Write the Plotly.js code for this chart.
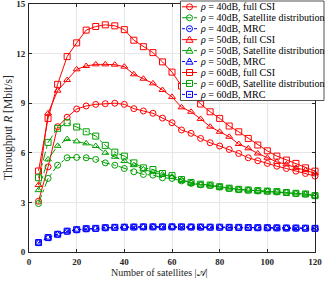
<!DOCTYPE html>
<html>
<head>
<meta charset="utf-8">
<script src="https://cdn.plot.ly/plotly-3.0.1.min.js"></script>
<style>
html,body{margin:0;padding:0;background:#fff;}
#chart{width:325px;height:283px;}
</style>
</head>
<body>
<div id="chart"></div>
<script>
// ---- data ----
const satellites = [4,8,12,16,20,24,28,32,36,40,44,48,52,56,60,64,68,72,76,80,84,88,92,96,100,104,108,112,116,120];

const full40 = [3.07,5.15,7.58,8.15,8.65,8.83,8.93,8.97,9.00,8.93,8.67,8.53,8.39,8.10,7.82,7.38,7.18,6.87,6.61,6.41,6.20,5.96,5.70,5.52,5.36,5.19,5.05,4.89,4.75,4.59];
const full50 = [4.05,8.39,9.76,10.40,11.05,11.25,11.35,11.35,11.33,11.21,10.75,10.48,10.20,9.80,9.38,8.75,8.48,8.05,7.58,7.27,6.97,6.53,6.27,5.96,5.70,5.45,5.30,5.09,4.95,4.75];
const full60 = [4.90,8.08,10.14,11.82,12.65,13.42,13.64,13.74,13.68,13.45,12.81,12.42,12.06,11.50,10.88,10.04,9.60,8.95,8.48,8.08,7.62,7.27,6.87,6.47,6.12,5.80,5.56,5.36,5.09,4.89];

const sat40 = [2.93,4.45,5.25,5.70,5.72,5.70,5.60,5.39,5.25,5.05,4.85,4.69,4.65,4.49,4.45,4.30,4.15,4.06,4.02,3.93,3.84,3.78,3.74,3.70,3.68,3.64,3.60,3.54,3.50,3.40];
const sat50 = [3.74,5.60,6.42,6.83,6.69,6.57,6.41,6.00,5.76,5.50,5.25,5.00,4.83,4.69,4.55,4.35,4.18,4.08,4.04,3.94,3.85,3.78,3.74,3.70,3.68,3.64,3.60,3.55,3.50,3.40];
const sat60 = [4.49,6.63,7.48,7.82,7.56,7.27,7.01,6.45,6.04,5.80,5.39,5.09,4.99,4.75,4.62,4.38,4.20,4.10,4.05,3.95,3.86,3.79,3.75,3.71,3.68,3.65,3.60,3.55,3.51,3.41];

const mrc40 = [0.57,0.87,1.07,1.25,1.34,1.40,1.42,1.46,1.49,1.50,1.51,1.52,1.52,1.52,1.52,1.51,1.51,1.50,1.50,1.49,1.49,1.48,1.48,1.47,1.46,1.46,1.45,1.44,1.44,1.43];
const mrc50 = [0.57,0.87,1.07,1.26,1.35,1.41,1.43,1.47,1.49,1.50,1.51,1.52,1.52,1.52,1.52,1.52,1.51,1.51,1.50,1.50,1.49,1.49,1.48,1.47,1.47,1.46,1.45,1.45,1.44,1.43];
const mrc60 = [0.57,0.87,1.07,1.26,1.35,1.41,1.43,1.47,1.49,1.50,1.51,1.52,1.52,1.52,1.52,1.52,1.51,1.51,1.50,1.50,1.49,1.49,1.48,1.47,1.47,1.46,1.45,1.45,1.44,1.43];

const xTicks = [0,20,40,60,80,100,120];
const yTicks = [0,3,6,9,12,15];

const legendLabels = [
  '<i>ρ</i> = 40dB, full CSI',
  '<i>ρ</i> = 40dB, Satellite distribution',
  '<i>ρ</i> = 40dB, MRC',
  '<i>ρ</i> = 50dB, full CSI',
  '<i>ρ</i> = 50dB, Satellite distribution',
  '<i>ρ</i> = 50dB, MRC',
  '<i>ρ</i> = 60dB, full CSI',
  '<i>ρ</i> = 60dB, Satellite distribution',
  '<i>ρ</i> = 60dB, MRC'
];

// ---- styles ----
const RED = '#ff0000', GREEN = '#00a000', BLUE = '#0000ff';
const series = [
  {y: full40, color: RED,   dash: 'solid',   sym: 'circle'},
  {y: sat40,  color: GREEN, dash: 'dashdot', sym: 'circle'},
  {y: mrc40,  color: BLUE,  dash: 'dot',     sym: 'circle'},
  {y: full50, color: RED,   dash: 'solid',   sym: 'triangle'},
  {y: sat50,  color: GREEN, dash: 'dashdot', sym: 'triangle'},
  {y: mrc50,  color: BLUE,  dash: 'dot',     sym: 'triangle'},
  {y: full60, color: RED,   dash: 'solid',   sym: 'square'},
  {y: sat60,  color: GREEN, dash: 'dashdot', sym: 'square'},
  {y: mrc60,  color: BLUE,  dash: 'dot',     sym: 'square'}
];
const symMap = {circle: 'circle-open', triangle: 'triangle-up-open', square: 'square-open'};

const traces = series.map((s, i) => ({
  type: 'scatter', mode: 'lines+markers',
  x: satellites, y: s.y, name: legendLabels[i],
  line: {color: s.color, width: 1, dash: s.dash},
  marker: {symbol: symMap[s.sym], size: 6, color: s.color, line: {width: 1, color: s.color}},
  showlegend: false, cliponaxis: false
}));

// pixel -> paper helpers (plot area: x 29..315, y 4..252)
const L = 29, R = 315, T = 4, B = 252;
const PX = p => (p - L) / (R - L);
const PY = p => (B - p) / (B - T);

const shapes = [];
const annotations = [];
// legend box
shapes.push({type: 'rect', xref: 'paper', yref: 'paper', x0: PX(180.5), x1: PX(324), y0: PY(100.5), y1: PY(1),
  line: {color: '#262626', width: 0.8}, fillcolor: '#ffffff', layer: 'above'});
series.forEach((s, i) => {
  const cy = 6.8 + 10.95 * i;
  shapes.push({type: 'line', xref: 'paper', yref: 'paper', x0: PX(182), x1: PX(197), y0: PY(cy), y1: PY(cy),
    line: {color: s.color, width: 1, dash: s.dash}, layer: 'above'});
  const mx = 189.5, r = 3;
  const mline = {color: s.color, width: 1};
  if (s.sym === 'circle') {
    shapes.push({type: 'circle', xref: 'paper', yref: 'paper', x0: PX(mx - r), x1: PX(mx + r), y0: PY(cy + r), y1: PY(cy - r),
      line: mline, fillcolor: 'rgba(255,255,255,0)', layer: 'above'});
  } else if (s.sym === 'square') {
    shapes.push({type: 'rect', xref: 'paper', yref: 'paper', x0: PX(mx - r), x1: PX(mx + r), y0: PY(cy + r), y1: PY(cy - r),
      line: mline, fillcolor: 'rgba(255,255,255,0)', layer: 'above'});
  } else {
    const p = `M ${PX(mx)},${PY(cy - 3.6)} L ${PX(mx + 3.6)},${PY(cy + 2.6)} L ${PX(mx - 3.6)},${PY(cy + 2.6)} Z`;
    shapes.push({type: 'path', xref: 'paper', yref: 'paper', path: p, line: mline, layer: 'above'});
  }
  annotations.push({xref: 'paper', yref: 'paper', x: PX(197.5), y: PY(cy), xanchor: 'left', yanchor: 'middle',
    text: legendLabels[i], showarrow: false, font: {family: 'Liberation Serif', size: 10, color: '#000'}});
});

// axis titles
annotations.push({xref: 'paper', yref: 'paper', x: PX(159), y: PY(272), xanchor: 'center', yanchor: 'middle',
  text: 'Number of satellites |𝒜|', showarrow: false, font: {family: 'Liberation Serif', size: 10, color: '#262626'}});
annotations.push({xref: 'paper', yref: 'paper', x: PX(8), y: PY(128), xanchor: 'center', yanchor: 'middle', textangle: -90,
  text: 'Throughput <i>R</i> [Mbit/s]', showarrow: false, font: {family: 'Liberation Serif', size: 11.5, color: '#262626'}});

const axisCommon = {
  showgrid: true, gridcolor: '#e6e6e6', gridwidth: 1,
  showline: true, linecolor: '#262626', linewidth: 1, mirror: 'ticks',
  ticks: 'inside', ticklen: 3, tickcolor: '#262626', zeroline: false,
  ticklabeloverflow: 'allow',
  tickfont: {family: 'Liberation Serif', size: 9, color: '#262626', weight: 'bold'}
};

const layout = {
  width: 325, height: 283,
  margin: {l: L, r: 325 - R, t: T, b: 283 - B},
  paper_bgcolor: '#ffffff', plot_bgcolor: '#ffffff',
  showlegend: false,
  xaxis: Object.assign({}, axisCommon, {range: [0, 120], tickvals: xTicks, ticktext: xTicks.map(String), ticklabelstandoff: 1}),
  yaxis: Object.assign({}, axisCommon, {range: [0, 15], tickvals: yTicks, ticktext: yTicks.map(String), ticklabelstandoff: 1}),
  shapes: shapes,
  annotations: annotations
};

Plotly.newPlot('chart', traces, layout, {staticPlot: true, displayModeBar: false});
</script>
</body>
</html>
